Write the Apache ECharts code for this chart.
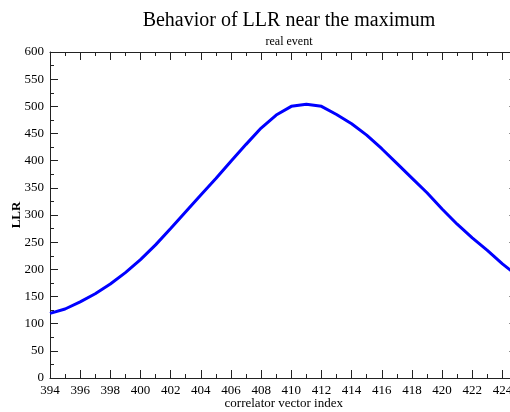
<!DOCTYPE html>
<html>
<head>
<meta charset="utf-8">
<style>
  html, body { margin: 0; padding: 0; background: #fff; }
  #chart { width: 510px; height: 412px; }
</style>
<script src="https://cdn.jsdelivr.net/npm/echarts@6/dist/echarts.min.js"></script>
</head>
<body>
<div id="chart"></div>
<script>
// Correlator vector index and the log-likelihood ratio at each index
const indices = [394, 395, 396, 397, 398, 399, 400, 401, 402, 403, 404, 405, 406, 407, 408, 409,
                 410, 411, 412, 413, 414, 415, 416, 417, 418, 419, 420, 421, 422, 423, 424, 425];
const llr = [119, 127, 140, 155, 173, 194, 218, 245, 275, 306, 337, 367, 399, 430, 460, 484,
             500, 504, 500, 485, 468, 447, 422, 395, 368, 341, 311, 283, 258, 235, 210, 188];

const titleText = 'Behavior of LLR near the maximum';
const subtitleText = 'real event';
const xName = 'correlator vector index';
const yName = 'LLR';

const serif = '"Liberation Serif", "DejaVu Serif", serif';
const axisColor = '#222';

const points = indices.map((x, i) => [x, llr[i]]);

const baseAxis = {
  axisLine: { show: true, onZero: false, lineStyle: { color: axisColor, width: 1 } },
  axisTick: { show: true, inside: true, length: 8, lineStyle: { color: axisColor } },
  minorTick: { show: true, splitNumber: 2, length: 4, lineStyle: { color: axisColor } },
  splitLine: { show: false },
  minorSplitLine: { show: false }
};

const chart = echarts.init(document.getElementById('chart'), null, { renderer: 'canvas' });
chart.setOption({
  animation: false,
  backgroundColor: '#fff',
  title: [
    { text: titleText, left: 284, top: 6, textAlign: 'center',
      textStyle: { fontFamily: serif, fontSize: 20, fontWeight: 'normal', color: '#000' } },
    { text: subtitleText, left: 284, top: 31, textAlign: 'center',
      textStyle: { fontFamily: serif, fontSize: 12, fontWeight: 'normal', color: '#000' } }
  ],
  grid: { left: 50, right: -7.5, top: 52, bottom: 34, containLabel: false, outerBoundsMode: 'none' },
  xAxis: [
    Object.assign({}, baseAxis, {
      type: 'value', position: 'bottom', min: 394, max: 425, interval: 2,
      name: xName, nameLocation: 'middle', nameGap: 19, nameMoveOverlap: false,
      nameTextStyle: { fontFamily: serif, fontSize: 13, color: '#000' },
      axisLabel: { show: true, showMaxLabel: false, margin: 6, fontFamily: serif, fontSize: 13, color: '#000' }
    }),
    Object.assign({}, baseAxis, {
      type: 'value', position: 'top', min: 394, max: 425, interval: 2,
      axisLabel: { show: false }
    })
  ],
  yAxis: [
    Object.assign({}, baseAxis, {
      type: 'value', position: 'left', min: 0, max: 600, interval: 50,
      name: yName, nameLocation: 'middle', nameGap: 27, nameRotate: 90, nameMoveOverlap: false,
      nameTextStyle: { fontFamily: serif, fontSize: 13, fontWeight: 'bold', color: '#000' },
      axisLabel: { show: true, margin: 6, fontFamily: serif, fontSize: 13, color: '#000' }
    }),
    Object.assign({}, baseAxis, {
      type: 'value', position: 'right', min: 0, max: 600, interval: 50,
      axisLabel: { show: false }
    })
  ],
  series: [{
    type: 'line',
    data: points,
    xAxisIndex: 0,
    yAxisIndex: 0,
    showSymbol: false,
    clip: true,
    lineStyle: { color: '#0000ff', width: 3 },
    itemStyle: { color: '#0000ff' }
  }]
});
</script>
</body>
</html>
